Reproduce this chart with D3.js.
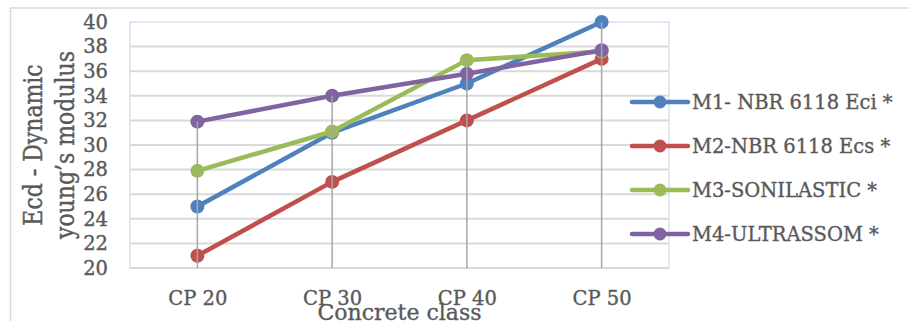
<!DOCTYPE html>
<html>
<head>
<meta charset="utf-8">
<script src="https://cdn.jsdelivr.net/npm/d3@7"></script>
<style>
  html, body { margin: 0; padding: 0; background: #fff; }
  svg { display: block; }
  text { font-family: 'DejaVu Serif', serif; fill: #595959; stroke: #595959; stroke-width: 0.35px; }
</style>
</head>
<body>
<div id="chart"></div>
<script>
const categories = ["CP 20", "CP 30", "CP 40", "CP 50"];
const seriesNames = ["M1- NBR 6118 Eci *", "M2-NBR 6118 Ecs *", "M3-SONILASTIC *", "M4-ULTRASSOM *"];
const m1 = [25, 31, 35, 40];
const m2 = [21, 27, 32, 37];
const m3 = [27.9, 31.1, 36.9, 37.6];
const m4 = [31.9, 34, 35.8, 37.7];
const yTicks = [20, 22, 24, 26, 28, 30, 32, 34, 36, 38, 40];
const colors = ["#4f81bd", "#c0504d", "#9bbb59", "#8064a2"];
const yTitleLines = ["Ecd - Dynamic", "young\u2019s modulus"];
const xTitle = "Concrete class";

const series = [m1, m2, m3, m4].map((vals, i) => ({ name: seriesNames[i], values: vals, color: colors[i] }));

const W = 909, H = 321;
const plot = { left: 130, right: 669, top: 22, bottom: 268 };

const svg = d3.select("#chart").append("svg").attr("width", W).attr("height", H);

// outer chart border
svg.append("rect")
  .attr("x", 10.5).attr("y", 8)
  .attr("width", 1000).attr("height", 400)
  .attr("fill", "none").attr("stroke", "#d9d9d9").attr("stroke-width", 1.5);

const x = d3.scalePoint().domain(categories).range([plot.left, plot.right]).padding(0.5);
const y = d3.scaleLinear().domain([20, 40]).range([plot.bottom, plot.top]);

// gridlines
svg.append("g").selectAll("line")
  .data(yTicks.filter(t => t > 20 && t < 40))
  .join("line")
  .attr("x1", plot.left).attr("x2", plot.right)
  .attr("y1", d => y(d)).attr("y2", d => y(d))
  .attr("stroke", "#d9d9d9").attr("stroke-width", 2);

// plot area border
svg.append("rect")
  .attr("x", plot.left).attr("y", plot.top)
  .attr("width", plot.right - plot.left).attr("height", plot.bottom - plot.top)
  .attr("fill", "none").attr("stroke", "#d6e1f0").attr("stroke-width", 1.5);

// x axis baseline
svg.append("line")
  .attr("x1", plot.left).attr("x2", plot.right)
  .attr("y1", y(20)).attr("y2", y(20))
  .attr("stroke", "#d9d9d9").attr("stroke-width", 2);

// series lines & markers
const line = d3.line().x((d, i) => x(categories[i])).y(d => y(d));
series.forEach(s => {
  svg.append("path")
    .attr("d", line(s.values))
    .attr("fill", "none").attr("stroke", s.color)
    .attr("stroke-width", 4.5).attr("stroke-linejoin", "round").attr("stroke-linecap", "round");
  svg.append("g").selectAll("circle")
    .data(s.values)
    .join("circle")
    .attr("cx", (d, i) => x(categories[i])).attr("cy", d => y(d))
    .attr("r", 7).attr("fill", s.color);
});

// drop lines (from highest point down to axis)
svg.append("g").selectAll("line")
  .data(categories)
  .join("line")
  .attr("x1", d => x(d)).attr("x2", d => x(d))
  .attr("y1", (d, i) => y(d3.max(series, s => s.values[i])))
  .attr("y2", y(20))
  .attr("stroke", "#a6a6a6").attr("stroke-width", 1.5);

// y axis
const yAxis = svg.append("g")
  .attr("transform", `translate(${108},0)`)
  .call(d3.axisLeft(y).tickValues(yTicks).tickSize(0).tickPadding(0).tickFormat(d3.format("d")));
yAxis.select(".domain").remove();
yAxis.selectAll("text")
  .style("font-family", "'DejaVu Serif', serif")
  .style("font-size", "19.5px").attr("fill", "#595959");

// x axis
const xAxis = svg.append("g")
  .attr("transform", `translate(0,${plot.bottom})`)
  .call(d3.axisBottom(x).tickSize(0).tickPadding(0));
xAxis.select(".domain").remove();
xAxis.selectAll("text")
  .attr("dy", null).attr("y", 37)
  .style("font-family", "'DejaVu Serif', serif")
  .style("font-size", "19.5px").attr("fill", "#595959");

// axis titles
svg.append("text")
  .attr("x", x.range()[0] + (plot.right - plot.left) / 2).attr("y", 320)
  .attr("text-anchor", "middle")
  .style("font-size", "22px")
  .text(xTitle);

const yt = svg.append("g");
[41.5, 73.5].forEach((bx, i) => {
  yt.append("text")
    .attr("transform", `translate(${bx},${(plot.top + plot.bottom) / 2}) scale(1.2,1) rotate(-90)`)
    .attr("text-anchor", "middle")
    .style("font-size", "22px")
    .text(yTitleLines[i]);
});

// legend
const legend = svg.append("g");
series.forEach((s, i) => {
  const ly = 102 + i * 44;
  legend.append("line")
    .attr("x1", 632).attr("x2", 688).attr("y1", ly).attr("y2", ly)
    .attr("stroke", s.color).attr("stroke-width", 4.5).attr("stroke-linecap", "round");
  legend.append("circle").attr("cx", 660).attr("cy", ly).attr("r", 6.5).attr("fill", s.color);
  legend.append("text")
    .attr("x", 692).attr("y", ly).attr("dy", "0.36em")
    .style("font-size", "19.5px")
    .text(s.name);
});
</script>
</body>
</html>
